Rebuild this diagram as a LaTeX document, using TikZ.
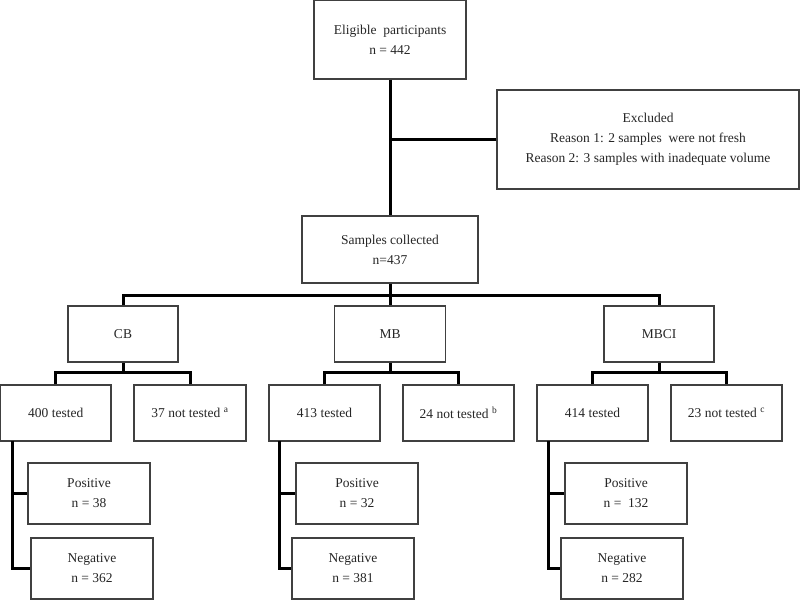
\documentclass[tikz,border=0pt]{standalone}
\usepackage{fontspec}
\setmainfont{Liberation Serif}
\definecolor{boxgray}{HTML}{404040}
\definecolor{txtgray}{HTML}{262626}
\begin{document}
\begin{tikzpicture}[x=1pt,y=-1pt,
  box/.style={draw=boxgray, line width=1.2pt, rectangle, inner sep=0pt, align=center,
    font=\fontsize{13.5}{20}\selectfont, text=txtgray},
  conn/.style={line width=3pt, draw=black, line join=miter}
]
\useasboundingbox[fill=white] (0,0) rectangle (800,600);

% top
\node[box, minimum width=152pt, minimum height=78.4pt] (elig) at (390,39.8) {Eligible\ \ participants\\n = 442};
\node[box, minimum width=302pt, minimum height=99pt] (excl) at (648,139.5) {Excluded\\Reason 1: 2 samples\ \ were not fresh\\Reason 2: 3 samples with inadequate volume};
\node[box, minimum width=176pt, minimum height=67pt] (samp) at (390,249.5) {Samples collected\\n=437};

% methods
\node[box, minimum width=110pt, minimum height=56pt] (cb) at (123,334) {CB};
\node[box, minimum width=111pt, minimum height=56pt] (mb) at (390,334) {MB};
\node[box, minimum width=110pt, minimum height=56pt] (mbci) at (659,334) {MBCI};

% tested row
\node[box, minimum width=110.4pt, minimum height=56pt] (t1) at (55.8,413) {400 tested};
\node[box, minimum width=112pt, minimum height=56pt] (n1) at (190,413) {37 not tested \textsuperscript{a}};
\node[box, minimum width=111pt, minimum height=56pt] (t2) at (324.5,413) {413 tested};
\node[box, minimum width=111pt, minimum height=56pt] (n2) at (458.5,413) {24 not tested \textsuperscript{b}};
\node[box, minimum width=111pt, minimum height=56pt] (t3) at (592.5,413) {414 tested};
\node[box, minimum width=111pt, minimum height=56pt] (n3) at (726.5,413) {23 not tested \textsuperscript{c}};

% results
\node[box, minimum width=122pt, minimum height=61pt] (p1) at (89,493.5) {Positive\\n = 38};
\node[box, minimum width=122pt, minimum height=61pt] (g1) at (92,568.5) {Negative\\n = 362};
\node[box, minimum width=122pt, minimum height=61pt] (p2) at (357,493.5) {Positive\\n = 32};
\node[box, minimum width=122pt, minimum height=61pt] (g2) at (353,568.5) {Negative\\n = 381};
\node[box, minimum width=122pt, minimum height=61pt] (p3) at (626,493.5) {Positive\\n =\ \ 132};
\node[box, minimum width=122pt, minimum height=61pt] (g3) at (622,568.5) {Negative\\n = 282};

% junction coordinates
\coordinate (j1) at (390,295);
\coordinate (k1) at (123,372);
\coordinate (k2) at (390,372);
\coordinate (k3) at (659,372);
\coordinate (v1) at (12,441);
\coordinate (v2) at (279,441);
\coordinate (v3) at (548,441);

% connectors
\draw[conn] (elig.south) -- (samp.north);
\draw[conn] (excl.west) -- (excl.west -| elig.south);
\draw[conn] (samp.south) -- (j1);
\draw[conn] (cb.north) |- (j1) -| (mbci.north);
\draw[conn] (j1) -- (mb.north);

\draw[conn] (cb.south) -- (k1);
\draw[conn] (t1.north) |- (k1) -| (n1.north);
\draw[conn] (mb.south) -- (k2);
\draw[conn] (t2.north) |- (k2) -| (n2.north);
\draw[conn] (mbci.south) -- (k3);
\draw[conn] (t3.north) |- (k3) -| (n3.north);

\draw[conn] (v1) |- (g1.west);
\draw[conn] (p1.west) -- (p1.west -| v1);
\draw[conn] (v2) |- (g2.west);
\draw[conn] (p2.west) -- (p2.west -| v2);
\draw[conn] (v3) |- (g3.west);
\draw[conn] (p3.west) -- (p3.west -| v3);
\end{tikzpicture}
\end{document}
